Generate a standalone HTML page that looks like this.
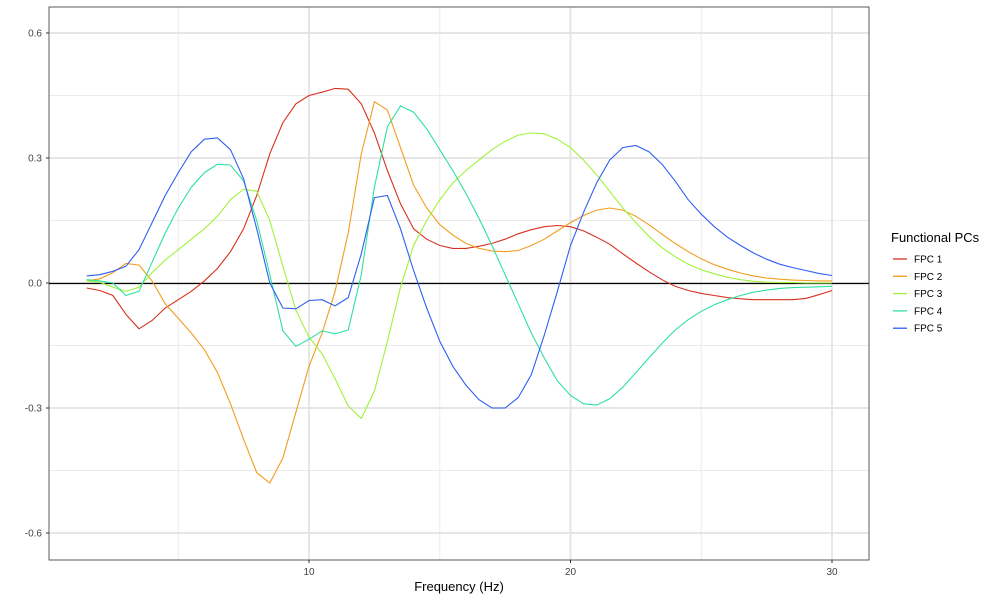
<!DOCTYPE html>
<html><head><meta charset="utf-8"><style>
body{margin:0;background:#fff;font-family:"Liberation Sans",Arial,sans-serif}
</style></head><body>
<svg id="chart" width="1000" height="600" xmlns="http://www.w3.org/2000/svg" font-family="Liberation Sans, Arial, sans-serif">
<rect width="1000" height="600" fill="#fff"/>
<g id="grid"></g>
<g id="series"></g>
<rect x="49" y="7" width="820" height="553" fill="none" stroke="#333" stroke-width="0.8"/>
<g id="axes"></g>
<text x="459" y="591" text-anchor="middle" font-size="13" fill="#000">Frequency (Hz)</text>
<g id="legend">
<text x="891" y="242" font-size="13" fill="#000">Functional PCs</text>
</g>
</svg>
<script>
const freqs=[];for(let f=1.5;f<=30.001;f+=0.5)freqs.push(+f.toFixed(1));
const seriesNames=["FPC 1","FPC 2","FPC 3","FPC 4","FPC 5"];
const colors=["#d7301f","#f39c1f","#a0f23a","#2ee0a0","#2f5ff2"];
const fpc1=[-0.012,-0.018,-0.03,-0.075,-0.11,-0.09,-0.06,-0.04,-0.02,0.005,0.035,0.075,0.13,0.21,0.31,0.385,0.43,0.45,0.458,0.467,0.465,0.43,0.36,0.27,0.19,0.13,0.105,0.09,0.083,0.083,0.088,0.095,0.105,0.118,0.128,0.135,0.138,0.135,0.125,0.11,0.093,0.07,0.048,0.027,0.008,-0.008,-0.018,-0.025,-0.03,-0.035,-0.038,-0.04,-0.04,-0.04,-0.04,-0.037,-0.028,-0.018];
const fpc2=[0.005,0.01,0.025,0.047,0.043,0.005,-0.05,-0.085,-0.12,-0.16,-0.215,-0.29,-0.375,-0.455,-0.48,-0.42,-0.31,-0.2,-0.12,-0.02,0.12,0.31,0.435,0.415,0.325,0.235,0.18,0.14,0.115,0.095,0.083,0.077,0.075,0.078,0.09,0.105,0.125,0.145,0.162,0.175,0.18,0.175,0.16,0.14,0.117,0.095,0.075,0.058,0.044,0.033,0.024,0.017,0.012,0.009,0.007,0.006,0.005,0.005];
const fpc3=[0.005,0.002,-0.01,-0.02,-0.01,0.025,0.055,0.08,0.105,0.13,0.16,0.2,0.225,0.22,0.15,0.04,-0.065,-0.13,-0.17,-0.23,-0.295,-0.325,-0.26,-0.14,-0.01,0.09,0.15,0.2,0.24,0.27,0.295,0.32,0.34,0.355,0.36,0.358,0.345,0.325,0.295,0.26,0.22,0.18,0.145,0.112,0.085,0.063,0.045,0.032,0.022,0.014,0.008,0.004,0.002,0.001,0.001,0,0,0];
const fpc4=[0.008,0.005,0,-0.03,-0.02,0.05,0.12,0.18,0.23,0.265,0.285,0.283,0.245,0.15,0.02,-0.115,-0.152,-0.135,-0.115,-0.122,-0.113,0.02,0.23,0.375,0.425,0.41,0.37,0.32,0.27,0.215,0.155,0.09,0.02,-0.05,-0.12,-0.18,-0.235,-0.27,-0.29,-0.293,-0.278,-0.25,-0.215,-0.18,-0.145,-0.113,-0.088,-0.068,-0.052,-0.04,-0.03,-0.022,-0.017,-0.013,-0.011,-0.01,-0.009,-0.008];
const fpc5=[0.017,0.02,0.028,0.04,0.08,0.145,0.21,0.265,0.315,0.345,0.348,0.32,0.25,0.13,0,-0.06,-0.062,-0.042,-0.04,-0.055,-0.035,0.07,0.205,0.21,0.13,0.03,-0.06,-0.14,-0.2,-0.245,-0.28,-0.3,-0.3,-0.275,-0.22,-0.125,-0.02,0.09,0.17,0.24,0.295,0.325,0.33,0.315,0.285,0.245,0.2,0.165,0.135,0.11,0.09,0.072,0.057,0.045,0.037,0.03,0.023,0.018];
const xMajor=[10,20,30],xMinor=[5,15,25];
const yMajor=[-0.6,-0.3,0,0.3,0.6],yMinor=[-0.45,-0.15,0.15,0.45];
const yLabels=["-0.6","-0.3","0.0","0.3","0.6"];
const NS="http://www.w3.org/2000/svg";
const X=f=>47.5+26.15*f, Y=v=>283-416.7*v;
function mk(p,tag,attrs){const e=document.createElementNS(NS,tag);for(const k in attrs)e.setAttribute(k,attrs[k]);p.appendChild(e);return e;}
const grid=document.getElementById('grid'),axes=document.getElementById('axes'),ser=document.getElementById('series'),leg=document.getElementById('legend');
xMinor.forEach(v=>{const l=mk(grid,'line',{x1:X(v),x2:X(v),y1:7,y2:560,stroke:'#ebebeb','stroke-width':1});

});
yMinor.forEach(v=>{const l=mk(grid,'line',{x1:49,x2:869,y1:Y(v),y2:Y(v),stroke:'#ebebeb','stroke-width':1});

});
xMajor.forEach(v=>{const l=mk(grid,'line',{x1:X(v),x2:X(v),y1:7,y2:560,stroke:'#e3e3e3','stroke-width':1.8});


const t=mk(axes,'text',{x:X(v),y:575,'text-anchor':'middle','font-size':10,fill:'#444'});t.textContent=v;


mk(axes,'line',{x1:X(v),x2:X(v),y1:560,y2:563,stroke:'#333'});});
yMajor.forEach((v,i)=>{const l=mk(grid,'line',{x1:49,x2:869,y1:Y(v),y2:Y(v),stroke:'#e3e3e3','stroke-width':1.8});


const t=mk(axes,'text',{x:42,y:Y(v)+3.5,'text-anchor':'end','font-size':10,fill:'#444'});t.textContent=yLabels[i];


mk(axes,'line',{x1:46,x2:49,y1:Y(v),y2:Y(v),stroke:'#333'});});
const zl=mk(grid,'line',{x1:49,x2:869,y1:Y(0)+0.5,y2:Y(0)+0.5,stroke:'#000','stroke-width':1.2});


[fpc1,fpc2,fpc3,fpc4,fpc5].forEach((d,i)=>{
const p=mk(ser,'polyline',{points:d.map((v,j)=>X(freqs[j]).toFixed(1)+','+Y(v).toFixed(1)).join(' '),fill:'none',stroke:colors[i],'stroke-width':1.1});


const y=259+i*17.3;
const g=mk(leg,'g',{});


mk(g,'line',{x1:893,x2:907,y1:y,y2:y,stroke:colors[i],'stroke-width':1.3});
const t=mk(g,'text',{x:914,y:y+3.5,'font-size':10,fill:'#000'});t.textContent=seriesNames[i];
});
</script>
</body></html>
